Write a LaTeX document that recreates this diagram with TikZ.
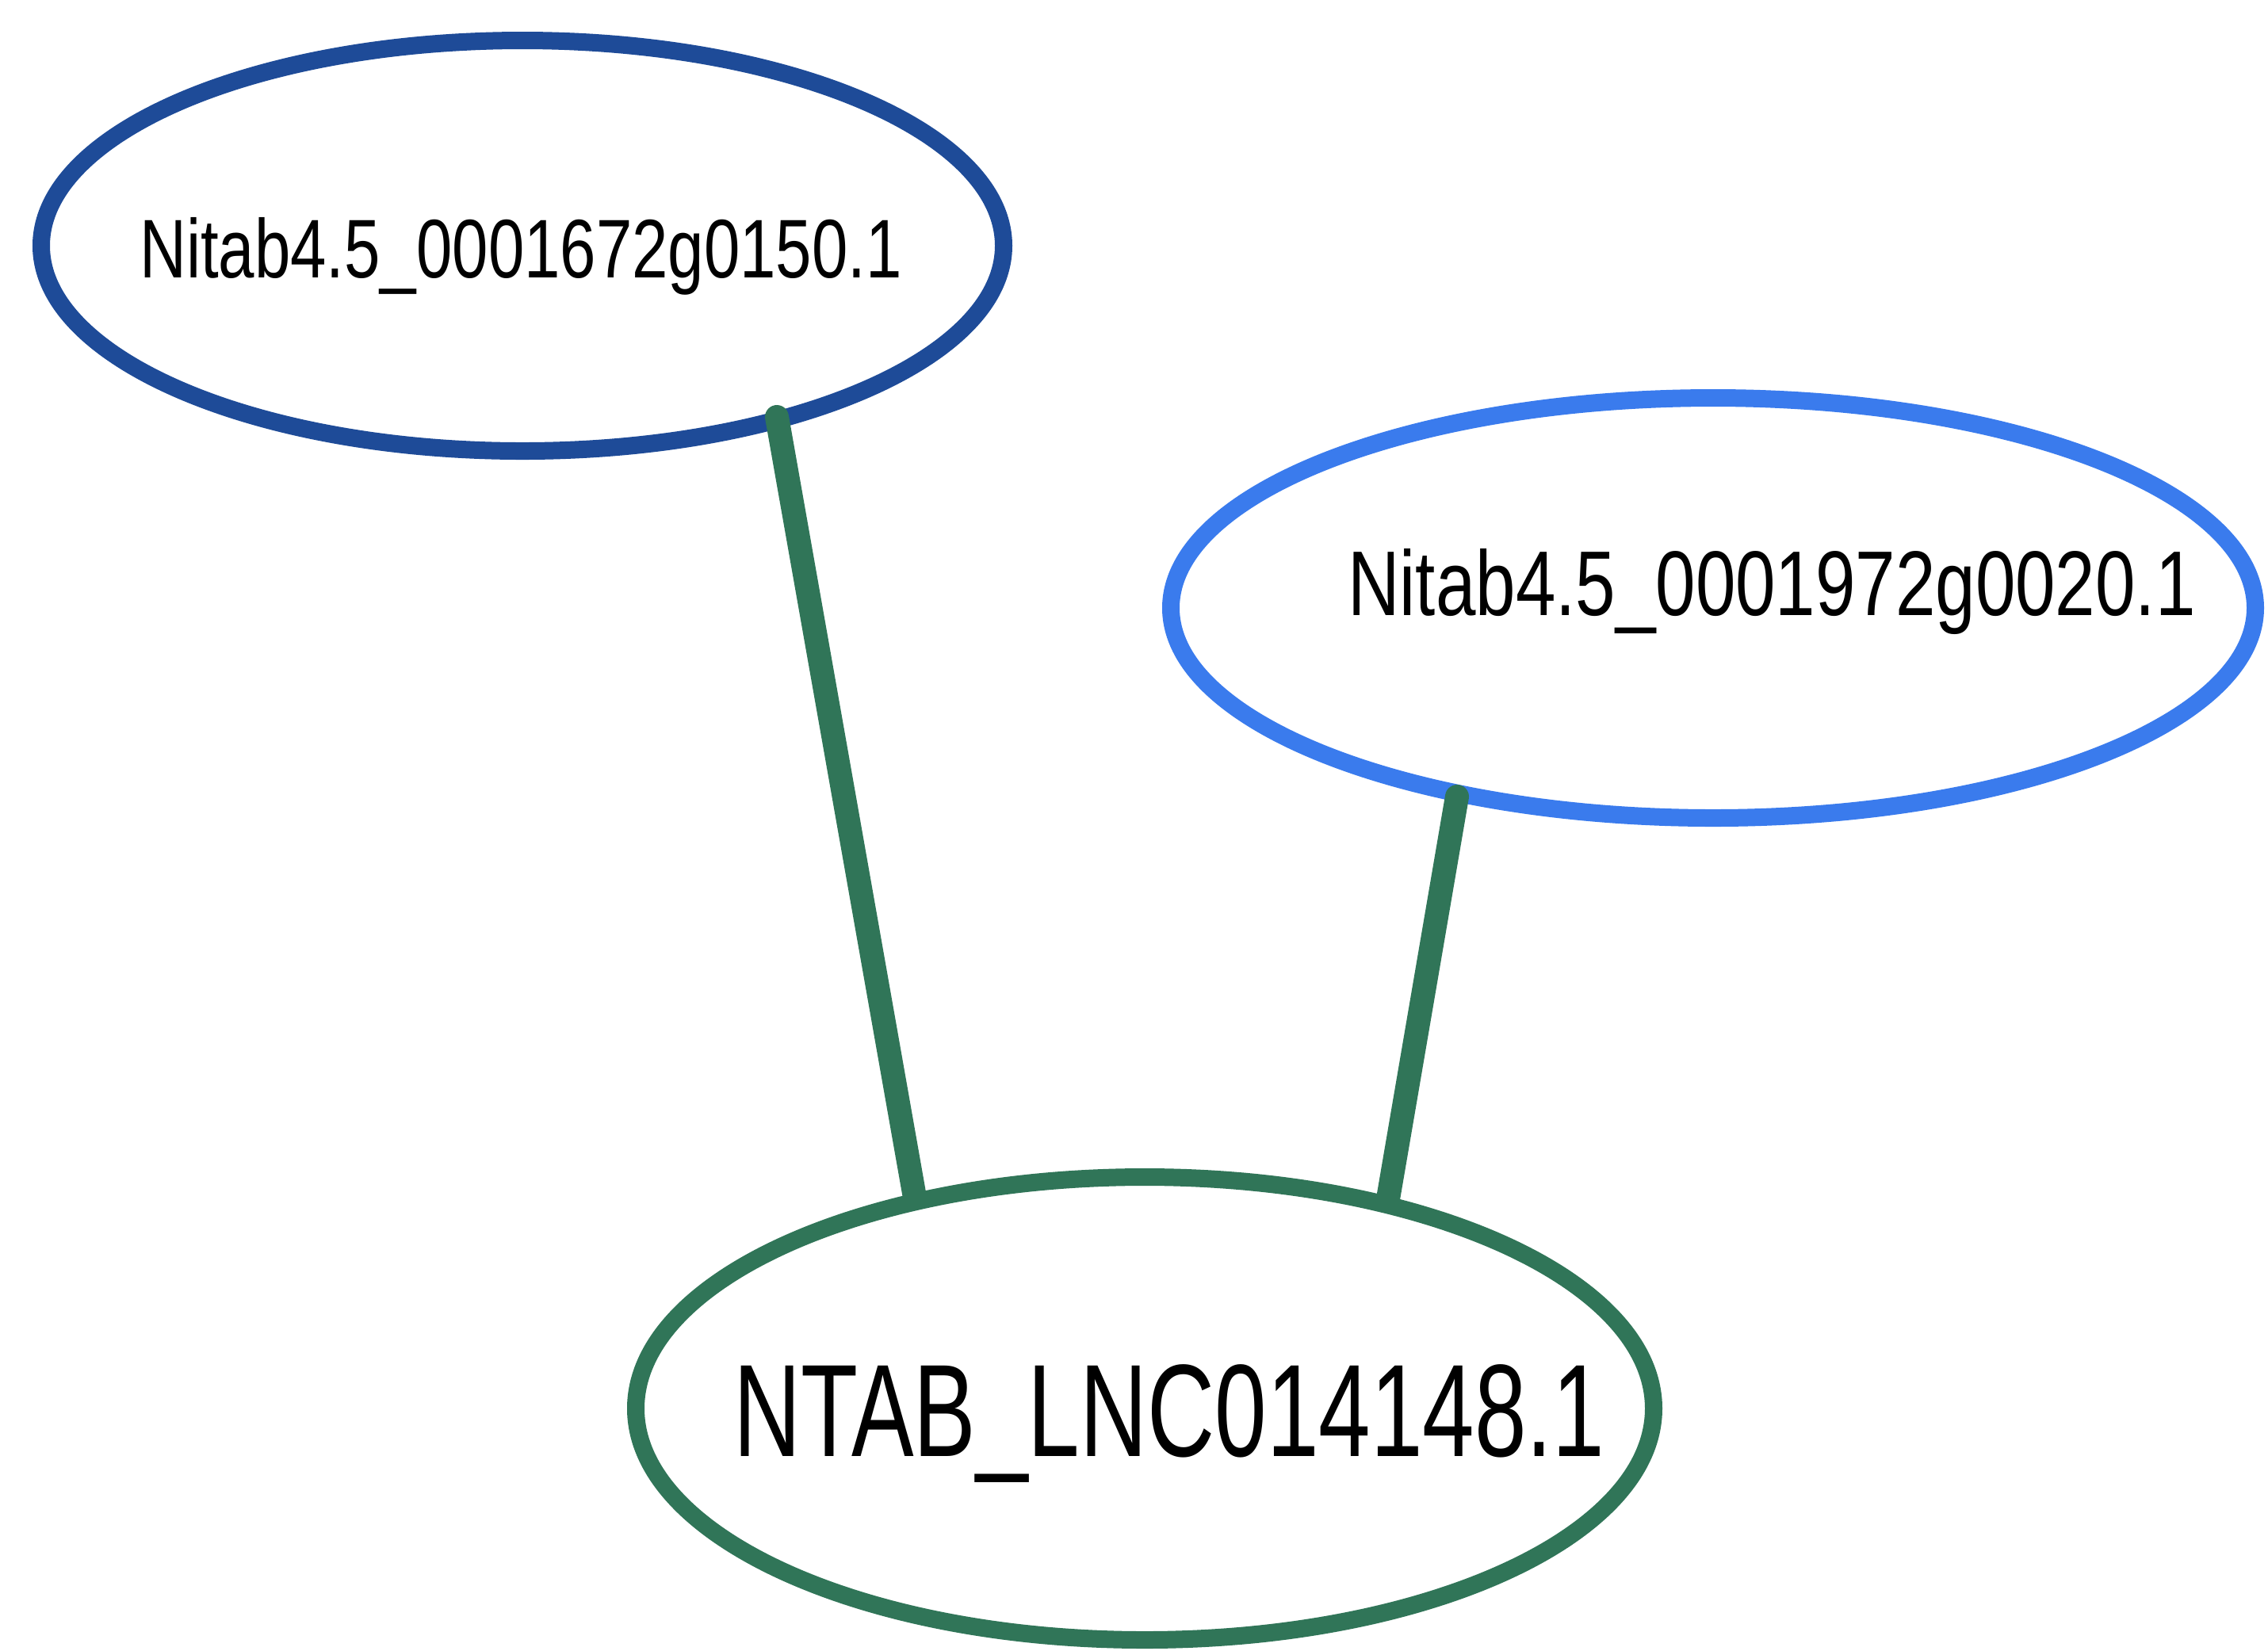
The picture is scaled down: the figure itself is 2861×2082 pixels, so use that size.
\documentclass[tikz,border=0pt]{standalone}
\usepackage{fontspec}
\setmainfont{Liberation Sans}
\usetikzlibrary{shapes.geometric,calc}
\definecolor{darkblue}{RGB}{30,75,152}
\definecolor{lightblue}{RGB}{58,123,237}
\definecolor{edgegreen}{RGB}{48,117,88}
\tikzset{
  nodeell/.style={ellipse, line width=5.5pt, fill=white, inner sep=0pt},
  lbl/.style={anchor=base, inner sep=0pt, text=black},
  edgeline/.style={draw=edgegreen, line width=7.5pt, line cap=round}
}
\begin{document}
\begin{tikzpicture}[x=0.25pt,y=-0.25pt]
\useasboundingbox[fill=white] (0,0) rectangle (2861,2082);
% ellipses
\node[nodeell, draw=darkblue, minimum width=1214*0.25pt, minimum height=518*0.25pt] (e1) at (659,310) {};
\node[nodeell, draw=lightblue, minimum width=1368*0.25pt, minimum height=530*0.25pt] (e2) at (2161,767) {};
\node[nodeell, draw=edgegreen, minimum width=1284*0.25pt, minimum height=584*0.25pt] (e3) at (1444,1777) {};
% labels
\node[lbl] (t1) at (657,350) {\fontsize{26.25pt}{30pt}\selectfont\scalebox{0.777}[1]{Nitab4.5\_0001672g0150.1}};
\node[lbl] (t2) at (2235,776) {\fontsize{29pt}{33pt}\selectfont\scalebox{0.782}[1]{Nitab4.5\_0001972g0020.1}};
\node[lbl] (t3) at (1475,1837) {\fontsize{41.5pt}{46pt}\selectfont\scalebox{0.71}[1]{NTAB\_LNC014148.1}};
% edges
\draw[edgeline] ($(e1.center)+(321,216)$) -- (e3.137.8);
\draw[edgeline] ($(e2.center)+(-323,238)$) -- (e3.41.3);
\end{tikzpicture}
\end{document}
